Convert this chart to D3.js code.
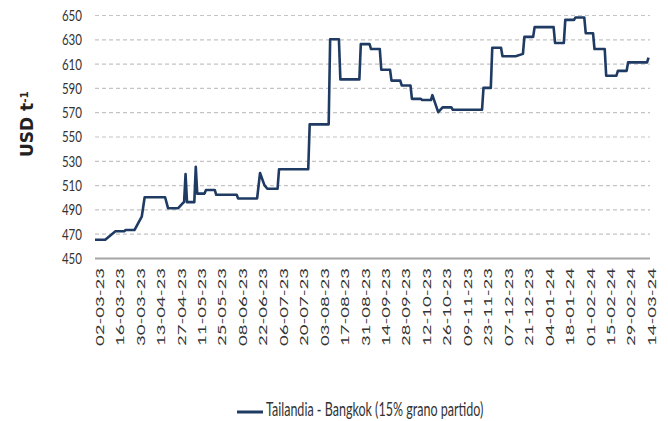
<!DOCTYPE html>
<html>
<head>
<meta charset="utf-8">
<script src="https://cdn.jsdelivr.net/npm/d3@7"></script>
<style>
  body { margin: 0; background: #fff; }
  #chart { width: 668px; height: 421px; }
</style>
</head>
<body>
<div id="chart"></div>
<script>
// Dati: prezzo riso Thai 15% grano partido (USD/t)
const dates = [
  "2023-03-02", "2023-03-09", "2023-03-16", "2023-03-22", "2023-03-23", "2023-03-29",
  "2023-04-03", "2023-04-05", "2023-04-19", "2023-04-21", "2023-04-28", "2023-05-01",
  "2023-05-02", "2023-05-03", "2023-05-04", "2023-05-09", "2023-05-10", "2023-05-11",
  "2023-05-16", "2023-05-17", "2023-05-23", "2023-05-24", "2023-06-07", "2023-06-08",
  "2023-06-21", "2023-06-23", "2023-06-26", "2023-06-28", "2023-07-05", "2023-07-06",
  "2023-07-26", "2023-07-27", "2023-08-09", "2023-08-10", "2023-08-16", "2023-08-17",
  "2023-08-30", "2023-08-31", "2023-09-06", "2023-09-07", "2023-09-13", "2023-09-14",
  "2023-09-20", "2023-09-21", "2023-09-27", "2023-09-28", "2023-10-04", "2023-10-05",
  "2023-10-11", "2023-10-12", "2023-10-18", "2023-10-19", "2023-10-23", "2023-10-26",
  "2023-11-01", "2023-11-02", "2023-11-22", "2023-11-23", "2023-11-28", "2023-11-29",
  "2023-12-05", "2023-12-06", "2023-12-15", "2023-12-20", "2023-12-21", "2023-12-27",
  "2023-12-28", "2024-01-10", "2024-01-11", "2024-01-17", "2024-01-18", "2024-01-24",
  "2024-01-25", "2024-01-31", "2024-02-01", "2024-02-06", "2024-02-07", "2024-02-14",
  "2024-02-15", "2024-02-22", "2024-02-23", "2024-02-29", "2024-03-01", "2024-03-14",
  "2024-03-15"
];
const prices = [
  465, 465, 472, 472, 473, 473,
  484, 500, 500, 491, 491, 495,
  496, 519, 496, 496, 525, 503,
  503, 506, 506, 502, 502, 499,
  499, 520, 510, 507, 507, 523,
  523, 560, 560, 630, 630, 597,
  597, 626, 626, 622, 622, 605,
  605, 596, 596, 592, 592, 581,
  581, 580, 580, 584, 570, 574,
  574, 572, 572, 590, 590, 623,
  623, 616, 616, 618, 632, 632,
  640, 640, 627, 627, 646, 646,
  648, 648, 635, 635, 622, 622,
  600, 600, 604, 604, 611, 611,
  615
];

const tickLabels = [
  "02-03-23", "16-03-23", "30-03-23", "13-04-23", "27-04-23", "11-05-23", "25-05-23",
  "08-06-23", "22-06-23", "06-07-23", "20-07-23", "03-08-23", "17-08-23", "31-08-23",
  "14-09-23", "28-09-23", "12-10-23", "26-10-23", "09-11-23", "23-11-23", "07-12-23",
  "21-12-23", "04-01-24", "18-01-24", "01-02-24", "15-02-24", "29-02-24", "14-03-24"
];
const yTicks = [450, 470, 490, 510, 530, 550, 570, 590, 610, 630, 650];
const seriesName = "Tailandia - Bangkok (15% grano partido)";

// Dimensioni
const W = 668, H = 421;
const margin = { top: 15, right: 18, bottom: 163, left: 95 };
const width = W - margin.left - margin.right;
const height = H - margin.top - margin.bottom;

const parseDate = d3.timeParse("%Y-%m-%d");
const parseTick = d3.timeParse("%d-%m-%y");
const data = dates.map((d, i) => ({ date: parseDate(d), value: prices[i] }));
const tickDates = tickLabels.map(parseTick);

const svg = d3.select("#chart").append("svg")
  .attr("width", W)
  .attr("height", H);

const g = svg.append("g")
  .attr("transform", `translate(${margin.left},${margin.top})`);

const x = d3.scaleTime()
  .domain([parseDate("2023-03-02"), parseDate("2024-03-16")])
  .range([0, width]);

const y = d3.scaleLinear()
  .domain([450, 650])
  .range([height, 0]);

// Griglia + etichette asse Y
const yAxis = g.append("g")
  .call(d3.axisLeft(y).tickValues(yTicks).tickSize(-width).tickPadding(0));
yAxis.select(".domain").remove();
yAxis.selectAll(".tick line")
  .attr("stroke", "#c4c4c4")
  .attr("stroke-width", 1.2)
  .attr("stroke-dasharray", "4,3");
yAxis.selectAll(".tick")
  .filter(d => d === 450)
  .select("line")
  .attr("stroke", "#a6a6a6")
  .attr("stroke-width", 2)
  .attr("stroke-dasharray", null);
yAxis.selectAll(".tick text")
  .attr("x", 0)
  .attr("dy", "0.36em")
  .attr("transform", "translate(-13,0) scale(0.77,1)")
  .style("font-family", "Lato, 'Open Sans', sans-serif")
  .style("font-size", "15px")
  .attr("fill", "#333");

// Asse X con etichette ruotate
const xAxis = g.append("g")
  .attr("transform", `translate(0,${height})`)
  .call(d3.axisBottom(x).tickValues(tickDates).tickSize(0)
    .tickFormat((d, i) => tickLabels[i]));
xAxis.select(".domain").remove();
xAxis.selectAll(".tick text")
  .attr("x", 0)
  .attr("y", 0)
  .attr("dy", "0.36em")
  .attr("text-anchor", "end")
  .attr("transform", "translate(4,10) scale(0.64,1) rotate(-90)")
  .style("font-family", "Lato, 'Open Sans', sans-serif")
  .style("font-size", "18.5px")
  .attr("fill", "#333");

// Linea
const line = d3.line()
  .x(d => x(d.date))
  .y(d => y(d.value));

g.append("path")
  .datum(data)
  .attr("fill", "none")
  .attr("stroke", "#1f3a63")
  .attr("stroke-width", 2.6)
  .attr("stroke-linejoin", "round")
  .attr("d", line);

// Titolo asse Y
const yTitle = svg.append("text")
  .attr("transform", "translate(33,157) rotate(-90)")
  .attr("text-anchor", "start")
  .style("font-family", "'DejaVu Sans', sans-serif")
  .style("font-weight", "bold")
  .style("font-size", "17px")
  .attr("fill", "#222");
yTitle.append("tspan").text("USD t");
yTitle.append("tspan")
  .attr("dy", "-0.5em")
  .style("font-size", "10.5px")
  .text("-1");

// Legenda
const legend = svg.append("g").attr("transform", "translate(237,412)");
legend.append("line")
  .attr("x1", 0).attr("x2", 26)
  .attr("y1", 0).attr("y2", 0)
  .attr("stroke", "#1f3a63")
  .attr("stroke-width", 3);
legend.append("text")
  .attr("transform", "translate(29,4) scale(0.66,1)")
  .style("font-family", "Lato, 'Open Sans', sans-serif")
  .style("font-size", "19px")
  .attr("fill", "#333")
  .text(seriesName);
</script>
</body>
</html>
